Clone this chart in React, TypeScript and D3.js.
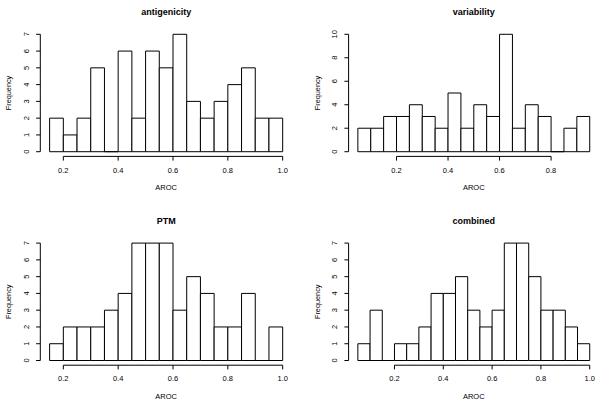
import React from "react";
import * as d3 from "d3";

const titles = ["antigenicity", "variability", "PTM", "combined"];
const binStarts = [0.15, 0.05, 0.15, 0.05];
const binWidth = 0.05;
const antigenicity = [2, 1, 2, 5, 0, 6, 2, 6, 5, 7, 3, 2, 3, 4, 5, 2, 2];
const variability = [2, 2, 3, 3, 4, 3, 2, 5, 2, 4, 3, 10, 2, 4, 3, 0, 2, 3];
const ptm = [1, 2, 2, 2, 3, 4, 7, 7, 7, 3, 5, 4, 2, 2, 4, 0, 2];
const combined = [1, 3, 0, 1, 1, 2, 4, 4, 5, 3, 2, 3, 7, 7, 5, 3, 3, 2, 1];
const xTicks = [
  [0.2, 0.4, 0.6, 0.8, 1.0],
  [0.2, 0.4, 0.6, 0.8],
  [0.2, 0.4, 0.6, 0.8, 1.0],
  [0.2, 0.4, 0.6, 0.8, 1.0],
];
const yTicks = [
  [0, 1, 2, 3, 4, 5, 6, 7],
  [0, 2, 4, 6, 8, 10],
  [0, 1, 2, 3, 4, 5, 6, 7],
  [0, 1, 2, 3, 4, 5, 6, 7],
];
const series = [antigenicity, variability, ptm, combined];

const FONT = "'Liberation Sans', Arial, Helvetica, sans-serif";

function Panel({ idx }: { idx: number }) {
  const col = idx % 2;
  const row = Math.floor(idx / 2);
  const left = col === 0 ? 40.3 : 348.6;
  const right = col === 0 ? 292 : 599;
  const top = row === 0 ? 29.6 : 238.4;
  const bottom = row === 0 ? 156.4 : 365.2;
  const vals = series[idx];
  const x0 = binStarts[idx];
  const x1 = x0 + vals.length * binWidth;
  const ext = (x1 - x0) * 0.04;
  const x = d3.scaleLinear().domain([x0 - ext, x1 + ext]).range([left, right]);
  const yt = yTicks[idx];
  const ymax = yt[yt.length - 1];
  const y = d3.scaleLinear().domain([-ymax * 0.04, ymax * 1.04]).range([bottom, top]);
  const xt = xTicks[idx];
  const cx = (left + right) / 2;
  const cy = (top + bottom) / 2;
  return (
    <g>
      {vals.map((v, i) => {
        const a = x(x0 + i * binWidth);
        const b = x(x0 + (i + 1) * binWidth);
        const y0 = y(0);
        const y1 = y(v);
        return (
          <path
            key={i}
            d={`M${a},${y0}L${a},${y1}L${b},${y1}L${b},${y0}Z`}
            fill="#fff"
            stroke="#000"
            strokeWidth={1}
          />
        );
      })}
      {/* x axis */}
      <line x1={x(xt[0])} x2={x(xt[xt.length - 1])} y1={bottom} y2={bottom} stroke="#000" strokeWidth={1} />
      {xt.map((t) => (
        <g key={t}>
          <line x1={x(t)} x2={x(t)} y1={bottom} y2={bottom + 4.2} stroke="#000" strokeWidth={1} />
          <text x={x(t)} y={bottom + 16.2} textAnchor="middle" fontSize={7.5} fontFamily={FONT} fill="#000">
            {t.toFixed(1)}
          </text>
        </g>
      ))}
      {/* y axis */}
      <line x1={left} x2={left} y1={y(yt[0])} y2={y(ymax)} stroke="#000" strokeWidth={1} />
      {yt.map((t) => (
        <g key={t}>
          <line x1={left} x2={left - 4.2} y1={y(t)} y2={y(t)} stroke="#000" strokeWidth={1} />
          <text
            transform={`translate(${left - 11.5},${y(t)}) rotate(-90)`}
            textAnchor="middle"
            fontSize={7.5}
            fontFamily={FONT}
            fill="#000"
          >
            {t}
          </text>
        </g>
      ))}
      <text x={cx} y={top - 14.3} textAnchor="middle" fontSize={9} fontWeight="bold" fontFamily={FONT} fill="#000">
        {titles[idx]}
      </text>
      <text x={cx} y={bottom + 34} textAnchor="middle" fontSize={7.5} fontFamily={FONT} fill="#000">
        AROC
      </text>
      <text
        transform={`translate(${left - 29},${cy}) rotate(-90)`}
        textAnchor="middle"
        fontSize={7.3}
        fontFamily={FONT}
        fill="#000"
      >
        Frequency
      </text>
    </g>
  );
}

export default function App() {
  return (
    <div style={{ position: "absolute", left: 0, top: 0 }}>
      <svg width={600} height={405} style={{ display: "block", background: "#fff" }}>
        <rect x={0} y={0} width={600} height={405} fill="#fff" />
        {[0, 1, 2, 3].map((i) => (
          <Panel key={i} idx={i} />
        ))}
      </svg>
    </div>
  );
}
